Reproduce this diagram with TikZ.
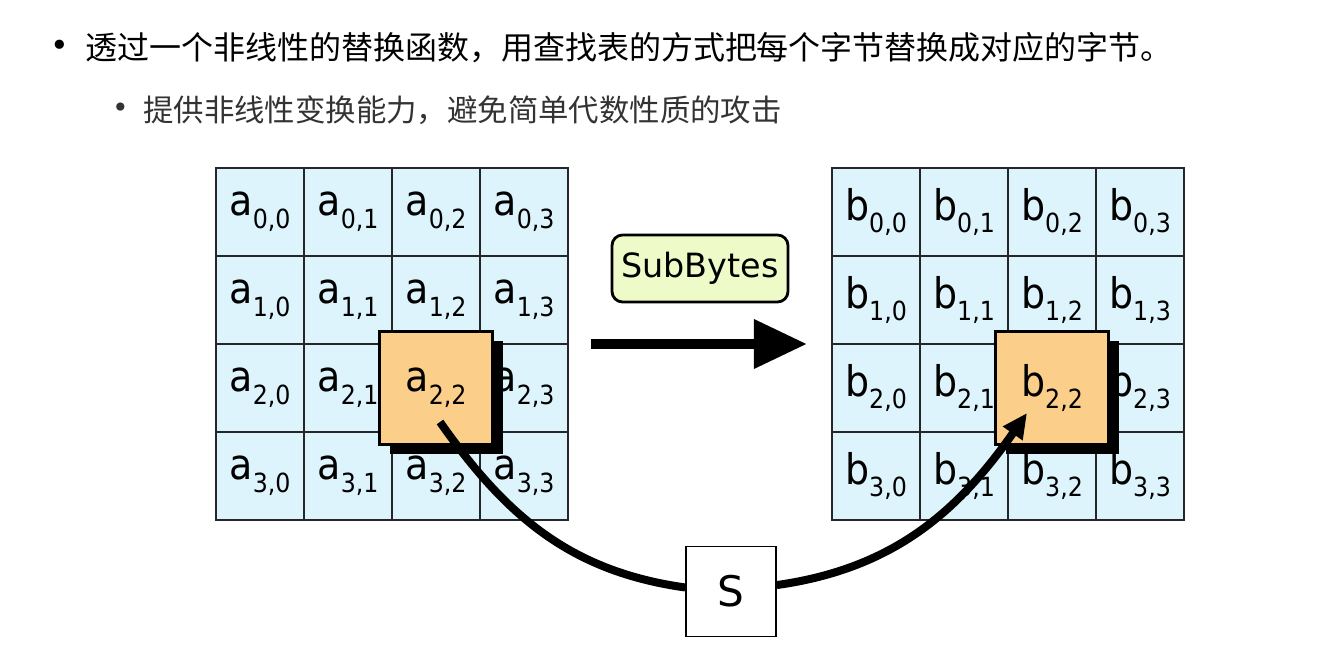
\documentclass[tikz,border=0pt]{standalone}
\usepackage{fontspec}
\setmainfont{DejaVu Sans}
\newfontfamily\cjk{Noto Sans CJK SC}
\newfontfamily\cellfont{DejaVu Sans Condensed}
\usepackage{xcolor}
\usepackage{tikz}
\usetikzlibrary{
  arrows.meta, positioning, fit, shadows
}
\definecolor{cellblue}{RGB}{222,244,252}
\definecolor{pickorange}{RGB}{251,206,138}
\definecolor{opgreen}{RGB}{238,251,200}
\definecolor{notegray}{RGB}{51,51,51}
\newcommand{\cellname}[3]{#1\raisebox{-0.3em}{\fontsize{15}{15}\selectfont #2,#3}}
\tikzset{
  cellbox/.style={
    draw=black!85, line width=0.8pt, fill=cellblue, inner sep=0pt,
    minimum size=1.76cm, font=\cellfont\fontsize{24}{24}\selectfont
  },
  pickbox/.style={
    draw, line width=1.6pt, fill=pickorange, inner sep=0pt,
    minimum size=2.26cm, font=\cellfont\fontsize{24}{24}\selectfont,
    drop shadow={shadow xshift=0.2cm, shadow yshift=-0.2cm,
      fill=black, opacity=1}
  },
  opbox/.style={
    draw, line width=1.6pt, rounded corners=6pt, fill=opgreen,
    minimum width=3.52cm, minimum height=1.34cm,
    font=\fontsize{19}{19}\selectfont
  },
  sboxstyle/.style={
    draw, line width=0.9pt, fill=white, minimum size=1.8cm,
    font=\fontsize{24}{24}\selectfont
  },
  bigarrow/.style={
    -{Triangle[length=1.06cm, width=0.94cm]}, line width=0.2cm,
    shorten <=0.44cm, shorten >=0.48cm
  },
  sline/.style={line width=0.16cm},
  bulletline/.style={
    anchor=west, inner sep=0pt, font=\cjk\fontsize{18.2}{20}\selectfont
  },
  subline/.style={
    anchor=west, inner sep=0pt, text=notegray,
    font=\cjk\fontsize{17.3}{19}\selectfont
  },
  bulletdot/.style={inner sep=0pt},
}
\begin{document}
\begin{tikzpicture}
  \useasboundingbox (0,0) rectangle (26.54,-13.32);

  % ── Bullet text ──
  \node[bulletline] (line1) at (1.7,-0.96)
    {透过一个非线性的替换函数，用查找表的方式把每个字节替换成对应的字节。};
  \node[bulletdot, font=\fontsize{18}{18}\selectfont, left=0.3cm of line1] (dot1) {•};

  \node[subline] (line2) at (2.86,-2.2)
    {提供非线性变换能力，避免简单代数性质的攻击};
  \node[bulletdot, font=\fontsize{16}{16}\selectfont, left=0.28cm of line2, text=notegray] (dot2) {•};

  % ── State grids ──
  \foreach \r in {0,...,3}{
    \foreach \c in {0,...,3}{
      \node[cellbox] (a\r\c) at ({4.32+1.76*(\c+0.5)},{-3.36-1.76*(\r+0.5)})
        {\cellname{a}{\r}{\c}};
      \node[cellbox] (b\r\c) at ({16.64+1.76*(\c+0.5)},{-3.36-1.76*(\r+0.5)})
        {\cellname{b}{\r}{\c}};
    }
  }
  \node[fit=(a00)(a33), inner sep=0pt] (gridA) {};
  \node[fit=(b00)(b33), inner sep=0pt] (gridB) {};

  % ── Picked byte ──
  \node[pickbox] (hlA) at (a22) {\cellname{a}{2}{2}};
  \node[pickbox] (hlB) at (b22) {\cellname{b}{2}{2}};

  % ── Operation ──
  \node[opbox] (subbytes) at (14.0,-5.37) {SubBytes};
  \draw[bigarrow] (gridA) -- (gridB);

  % ── S-box lookup ──
  \node[sboxstyle] (sbox) at (14.62,-11.83) {S};
  \coordinate (pickA) at ([shift={(0.08,-0.68)}]hlA.center);
  \coordinate (dropB) at ([shift={(-0.5,-0.5)}]hlB.center);
  \draw[sline] (pickA) to[out=-55, in=172] (sbox.175);
  \draw[sline, -{Triangle[length=0.5cm, width=0.45cm]}] (sbox.8)
    to[out=8, in=-125] (dropB);
\end{tikzpicture}
\end{document}
